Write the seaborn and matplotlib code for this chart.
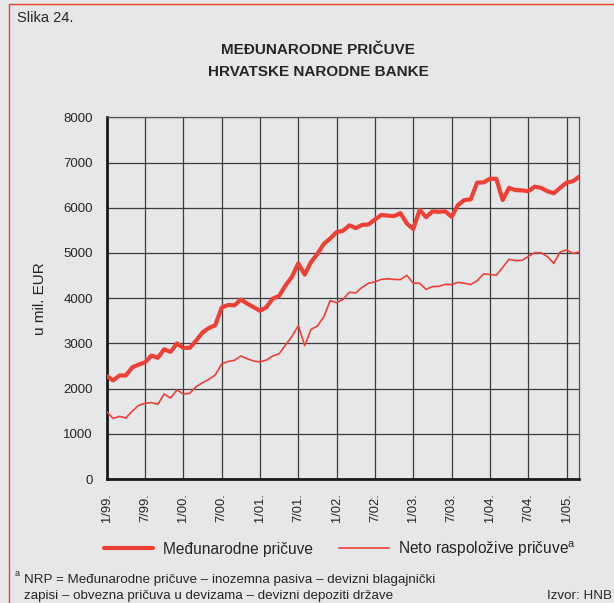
import matplotlib
matplotlib.use("Agg")
import matplotlib.pyplot as plt
from matplotlib.lines import Line2D
import seaborn as sns
import pandas as pd
import numpy as np

# ---- data (monthly, 1/99 .. 3/05), mil. EUR ----
months = list(range(75))
tick_positions = [0, 6, 12, 18, 24, 30, 36, 42, 48, 54, 60, 66, 72]
tick_labels = ["1/99.", "7/99.", "1/00.", "7/00.", "1/01.", "7/01.", "1/02.",
               "7/02.", "1/03.", "7/03.", "1/04.", "7/04.", "1/05."]

medjunarodne = [2280, 2180, 2290, 2290, 2470, 2530, 2580, 2730, 2680, 2870,
                2810, 3000, 2900, 2900, 3060, 3240, 3340, 3400, 3790, 3850,
                3840, 3970, 3880, 3800, 3720, 3800, 3990, 4050, 4280, 4470,
                4770, 4520, 4800, 4980, 5200, 5320, 5460, 5490, 5610, 5550,
                5620, 5630, 5740, 5840, 5825, 5815, 5880, 5650, 5530, 5950,
                5790, 5920, 5910, 5920, 5800, 6060, 6170, 6185, 6555, 6560,
                6640, 6640, 6170, 6440, 6390, 6385, 6365, 6465, 6440, 6365,
                6320, 6440, 6555, 6585, 6690]

neto = [1490, 1340, 1385, 1350, 1500, 1630, 1675, 1690, 1650, 1880,
        1790, 1970, 1880, 1895, 2040, 2130, 2205, 2300, 2545, 2600,
        2625, 2720, 2660, 2610, 2590, 2630, 2720, 2770, 2965, 3150,
        3390, 2950, 3310, 3385, 3590, 3945, 3900, 3975, 4130, 4115,
        4240, 4330, 4360, 4415, 4430, 4415, 4410, 4505, 4330, 4330,
        4195, 4255, 4260, 4305, 4300, 4350, 4330, 4300, 4385, 4535,
        4525, 4505, 4680, 4860, 4830, 4835, 4920, 5005, 5005, 4920,
        4770, 5020, 5065, 4990, 5020]

series_names = ["Međunarodne pričuve", "Neto raspoložive pričuve$^{\\mathrm{a}}$"]

df = pd.DataFrame({
    "month": months * 2,
    "value": medjunarodne + neto,
    "series": [series_names[0]] * len(months) + [series_names[1]] * len(months),
})

# ---- style ----
BG = "#E6E7E8"
RED = "#EE4035"
GRID = "#3C3C3C"

sns.set_style("white", {"axes.facecolor": BG, "figure.facecolor": BG})
plt.rcParams["font.family"] = ["Liberation Sans", "DejaVu Sans"]
plt.rcParams["mathtext.fontset"] = "custom"
plt.rcParams["mathtext.rm"] = "Liberation Sans"

fig = plt.figure(figsize=(6.14, 6.03), dpi=100, facecolor=BG)
W, H = 614, 603
ax = fig.add_axes([106.7 / W, 1 - 479 / H, (579.3 - 106.7) / W, (479 - 117.3) / H])
ax.set_facecolor(BG)

sns.lineplot(data=df, x="month", y="value", hue="series", size="series",
             sizes={series_names[0]: 3.0, series_names[1]: 1.2},
             palette={series_names[0]: RED, series_names[1]: RED},
             ax=ax, legend=False, zorder=3)

ax.set_xlim(0, 74)
ax.set_ylim(0, 8000)
ax.set_yticks(range(0, 8001, 1000))
ax.set_xticks(tick_positions)
ax.set_xticklabels(tick_labels, rotation=90, fontsize=9.3)
ax.tick_params(axis="y", labelsize=9.5)
ax.tick_params(axis="both", direction="out", length=6, width=1, color="#222222", pad=4)
ax.set_xlabel("")
ax.set_ylabel("u mil. EUR", fontsize=11, labelpad=12)

ax.grid(True, color=GRID, linewidth=0.9, zorder=1)
ax.set_axisbelow(True)
for s in ["top", "right"]:
    ax.spines[s].set_color("#555555")
    ax.spines[s].set_linewidth(0.9)
for s in ["left", "bottom"]:
    ax.spines[s].set_color("#1A1A1A")
    ax.spines[s].set_linewidth(2.0)

# ---- texts ----
fig.text(17 / W, 1 - 18 / H, "Slika 24.", fontsize=10.5, va="center", ha="left")
fig.text(318 / W, 1 - 50 / H, "MEĐUNARODNE PRIČUVE", fontsize=11, fontweight="bold",
         ha="center", va="center")
fig.text(318 / W, 1 - 72 / H, "HRVATSKE NARODNE BANKE", fontsize=11, fontweight="bold",
         ha="center", va="center")

# legend
legend_labels = ["Međunarodne pričuve", "Neto raspoložive pričuve$^{\\mathregular{a}}$"]
handles = [Line2D([], [], color=RED, lw=3.0), Line2D([], [], color=RED, lw=1.2)]
fig.legend(handles, legend_labels, loc="center", bbox_to_anchor=(340 / W, 1 - 549 / H),
           ncol=2, frameon=False, fontsize=11.2, handlelength=3.2, handletextpad=0.6,
           columnspacing=1.7)

# footnote
fig.text(15 / W, 1 - 573 / H, "a", fontsize=6.5, ha="left", va="center")
fig.text(24 / W, 1 - 580 / H,
         "NRP = Međunarodne pričuve – inozemna pasiva – devizni blagajnički",
         fontsize=9.6, ha="left", va="center")
fig.text(24 / W, 1 - 596 / H,
         "zapisi – obvezna pričuva u devizama – devizni depoziti države",
         fontsize=9.6, ha="left", va="center")
fig.text(612 / W, 1 - 596 / H, "Izvor: HNB", fontsize=9.6, ha="right", va="center")

# red frame (top and left)
fig.add_artist(Line2D([9 / W, 1], [1 - 3.5 / H, 1 - 3.5 / H], color=RED, lw=1.0,
                      transform=fig.transFigure))
fig.add_artist(Line2D([9 / W, 9 / W], [0, 1 - 3.5 / H], color=RED, lw=1.0,
                      transform=fig.transFigure))

fig.savefig("out.png", dpi=100, facecolor=BG)
